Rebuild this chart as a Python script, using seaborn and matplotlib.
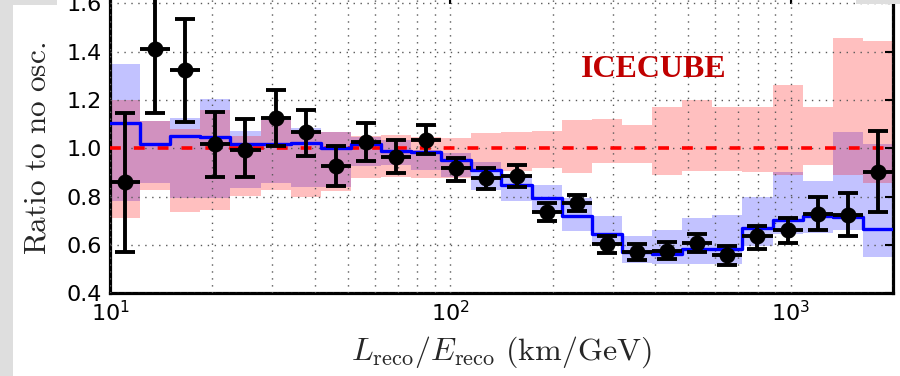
import numpy as np
import matplotlib
matplotlib.use("Agg")
import matplotlib.pyplot as plt
import seaborn as sns
from matplotlib.patches import Rectangle

# ---------------- data ----------------
bin_edges = [10.0, 12.26, 15.03, 18.43, 22.59, 27.70, 33.96, 41.64, 51.05, 62.59,
             76.74, 94.08, 115.3, 141.4, 173.4, 212.6, 260.6, 319.6, 391.7, 480.3,
             588.8, 722.1, 885.1, 1085.0, 1330.0, 1631.0, 2000.0]

mc_ratio = [1.103, 1.018, 1.051, 1.048, 1.020, 1.020, 1.023, 1.000, 1.020, 0.989,
            0.986, 0.952, 0.910, 0.849, 0.794, 0.719, 0.647, 0.570, 0.563, 0.585,
            0.582, 0.670, 0.705, 0.721, 0.717, 0.666]
mc_band_lo = [0.780, 0.856, 0.795, 0.795, 0.835, 0.858, 0.842, 0.842, 0.925, 0.930,
              0.911, 0.881, 0.828, 0.780, 0.733, 0.657, 0.606, 0.527, 0.520, 0.522,
              0.520, 0.595, 0.644, 0.650, 0.662, 0.551]
mc_band_hi = [1.348, 1.115, 1.126, 1.206, 1.073, 1.120, 1.086, 1.068, 1.045, 1.035,
              0.993, 0.982, 0.945, 0.890, 0.849, 0.794, 0.721, 0.636, 0.664, 0.712,
              0.726, 0.800, 0.900, 0.863, 1.068, 1.020]
sys_band_lo = [0.712, 0.826, 0.735, 0.746, 0.804, 0.828, 0.800, 0.824, 0.876, 0.883,
               0.877, 0.877, 0.900, 0.907, 0.920, 0.897, 0.940, 0.940, 0.890, 0.905,
               0.907, 0.900, 0.890, 0.931, 0.890, 0.856]
sys_band_hi = [1.200, 1.112, 1.082, 1.160, 1.052, 1.118, 1.068, 1.068, 1.050, 1.054,
               1.048, 1.041, 1.065, 1.068, 1.070, 1.117, 1.120, 1.095, 1.172, 1.200,
               1.170, 1.170, 1.264, 1.170, 1.455, 1.444]

data_ratio = [0.859, 1.410, 1.324, 1.017, 0.994, 1.124, 1.068, 0.927, 1.025, 0.966,
              1.034, 0.918, 0.877, 0.886, 0.737, 0.774, 0.602, 0.572, 0.576, 0.609,
              0.558, 0.636, 0.664, 0.730, 0.725, 0.901]
data_lo = [0.573, 1.148, 1.110, 0.880, 0.880, 1.010, 0.968, 0.845, 0.948, 0.897,
           0.977, 0.863, 0.833, 0.842, 0.698, 0.739, 0.565, 0.537, 0.543, 0.573,
           0.516, 0.585, 0.607, 0.662, 0.639, 0.736]
data_hi = [1.146, 1.700, 1.537, 1.152, 1.120, 1.240, 1.160, 1.009, 1.103, 1.034,
           1.096, 0.959, 0.918, 0.931, 0.774, 0.808, 0.637, 0.603, 0.612, 0.645,
           0.595, 0.680, 0.712, 0.798, 0.815, 1.071]

y_ticks = [0.4, 0.6, 0.8, 1.0, 1.2, 1.4, 1.6]
x_label = r"$L_{\rm reco}/E_{\rm reco}\ \mathrm{(km/GeV)}$"
y_label = r"$\mathrm{Ratio\ to\ no\ osc.}$"
tag_text = "ICECUBE"

# ---------------- style ----------------
sns.set_theme(style="white")
plt.rcParams["font.family"] = ["DejaVu Sans"]
plt.rcParams["mathtext.fontset"] = "dejavusans"

W, H = 900, 376
fig = plt.figure(figsize=(W / 100, H / 100), dpi=100)
fig.patch.set_facecolor("white")

ylim = (0.4, 1.63)
ax_left, ax_right, ax_bottom = 110, 893, 82.7
px_per_unit = 241.6
ax_h = (ylim[1] - ylim[0]) * px_per_unit
ax = fig.add_axes([ax_left / W, ax_bottom / H, (ax_right - ax_left) / W, ax_h / H])
ax.set_facecolor("white")

edges = np.array(bin_edges)
centers = np.sqrt(edges[:-1] * edges[1:])


def stepify(v):
    v = np.asarray(v, dtype=float)
    return np.append(v, v[-1])


# bands
ax.fill_between(edges, stepify(mc_band_lo), stepify(mc_band_hi), step="post",
                color="blue", alpha=0.24, lw=0, zorder=1)
ax.fill_between(edges, stepify(sys_band_lo), stepify(sys_band_hi), step="post",
                color="red", alpha=0.25, lw=0, zorder=1.1)

# reference line at 1
ax.axhline(1.0, color="red", lw=2.6, ls=(0, (3.0, 3.6)), zorder=3)

# MC step line
sns.lineplot(x=edges, y=stepify(mc_ratio), drawstyle="steps-post", color="blue",
             lw=2.4, estimator=None, ax=ax, zorder=3.5)

# data points
dv = np.array(data_ratio)
yerr = np.vstack([dv - np.array(data_lo), np.array(data_hi) - dv])
xerr = np.vstack([centers - edges[:-1], edges[1:] - centers])
ax.errorbar(centers, dv, xerr=xerr, fmt="none", ecolor="black", elinewidth=2.8,
            capsize=0, zorder=4)
ax.errorbar(centers, dv, yerr=yerr, fmt="o", color="black", ms=10.5, mec="black",
            ecolor="black", elinewidth=2.8, capsize=7.5, capthick=2.8, zorder=4)

# axes
ax.set_xscale("log")
ax.set_xlim(10, 2000)
ax.set_ylim(*ylim)
ax.set_yticks(y_ticks)
ax.set_yticklabels([f"{t:.1f}" for t in y_ticks])
ax.set_xlabel("")
ax.set_ylabel("")

ax.set_axisbelow(False)
grid_kw = dict(ls=(0, (1, 4)), color="0.35", lw=1.0, zorder=2.5)
ax.grid(True, which="major", axis="both", **grid_kw)
ax.grid(True, which="minor", axis="x", **grid_kw)

for s in ax.spines.values():
    s.set_linewidth(2.3)
    s.set_color("black")
    s.set_visible(True)

ax.tick_params(which="both", direction="in", top=True, right=True, colors="black")
ax.tick_params(which="major", length=5.5, width=1.5, labelsize=16, pad=6)
ax.tick_params(which="minor", length=3, width=1.2)
ax.tick_params(axis="x", which="major", pad=5)

# labels
fig.text(501 / W, 1 - 352 / H, x_label, ha="center", va="center", fontsize=23,
         math_fontfamily="cm")
fig.text(37 / W, 1 - 148 / H, y_label, ha="center", va="center", rotation=90,
         fontsize=22.5, math_fontfamily="cm")

ax.text((654 - ax_left) / (ax_right - ax_left), (H - 77.5 - ax_bottom) / ax_h, tag_text,
        transform=ax.transAxes, ha="center", va="baseline", fontsize=23,
        fontweight="bold", family=["Liberation Serif"], color="#c00000", zorder=5)

# screenshot frame pieces
grey = "#dedede"
fig.patches.append(Rectangle((0, 0), 13 / W, 1, transform=fig.transFigure,
                             color=grey, lw=0, zorder=10))
fig.patches.append(Rectangle((13 / W, 1 - 5 / H), 44 / W, 5 / H, transform=fig.transFigure,
                             color=grey, lw=0, zorder=10))
fig.patches.append(Rectangle((856 / W, 1 - 4 / H), 44 / W, 4 / H, transform=fig.transFigure,
                             color=grey, lw=0, zorder=10))

fig.savefig("out.png", dpi=100)
